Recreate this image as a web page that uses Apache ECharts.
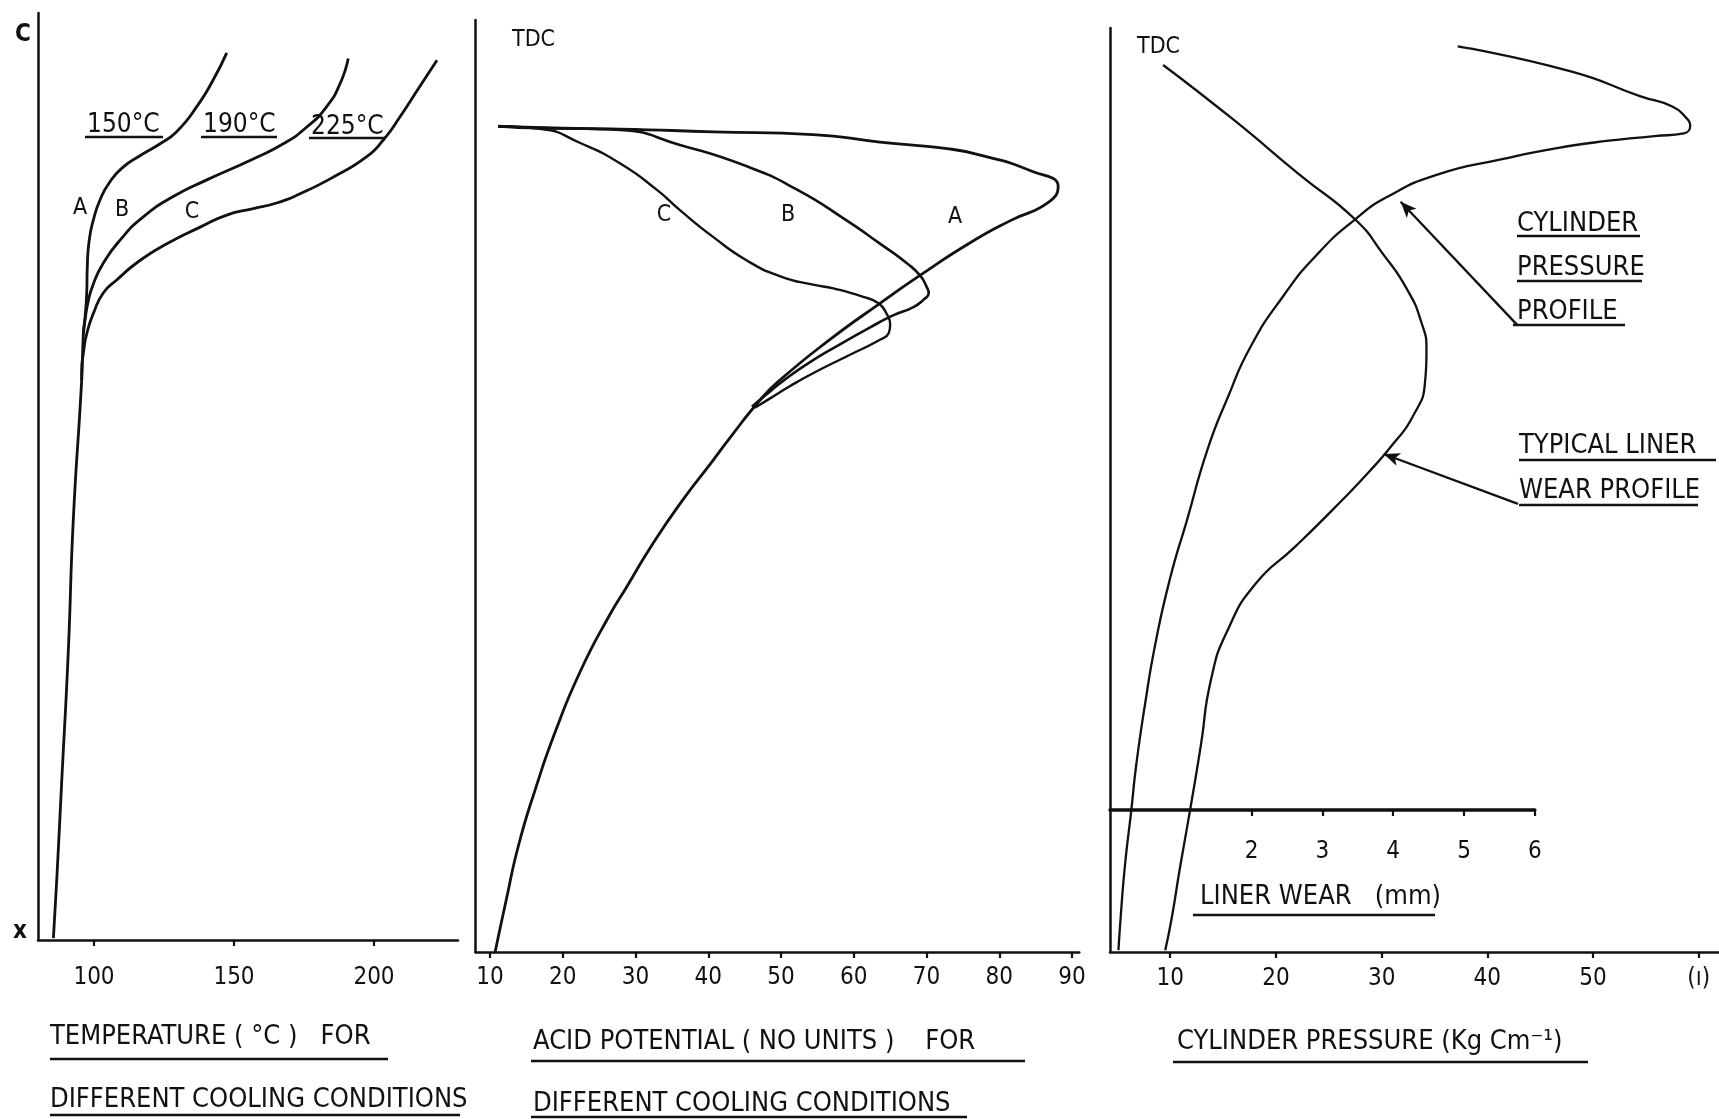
<!DOCTYPE html>
<html>
<head>
<meta charset="utf-8">
<script src="https://cdn.jsdelivr.net/npm/echarts@6/dist/echarts.min.js"></script>
<style>
html,body{margin:0;padding:0;background:#fff;}
#chart{width:1719px;height:1119px;}
</style>
</head>
<body>
<div id="chart"></div>
<script>
// ---------- DATA (y value = position along stroke, 0 = BDC at axis, 100 = top of axis) ----------
// Panel 1: temperature (°C) for cooling conditions A (150°C), B (190°C), C (225°C)
const temp150 = [[147.4,95.7],[142.6,92.8],[136.7,89.9],[129.5,87.2],[123.6,85.9],[116.4,84.6],[110.5,83.4],[105.7,81.8],[102.1,79.8],[99.8,77.7],[98.3,75.5],[97.6,72.6],[97.4,69.8],[96.8,67.2],[96.2,65.4],[95.6,60.4],[92.6,45.3],[90.8,31.0],[88.5,17.3],[86.7,6.5],[85.5,0.2]];
const temp190 = [[190.8,95.1],[187.9,92.4],[183.1,89.9],[176.0,87.7],[167.6,85.9],[155.7,84.1],[140.3,82.0],[128.3,80.2],[117.6,78.0],[109.3,75.5],[103.3,73.0],[99.8,70.8],[98.0,69.0],[96.8,66.9],[96.2,65.4]];
const temp225 = [[222.5,94.9],[216.4,92.1],[209.3,88.8],[203.3,86.3],[197.4,84.5],[185.5,82.3],[173.6,80.5],[165.2,79.5],[156.9,78.9],[147.4,78.2],[137.9,76.9],[126.0,75.1],[116.4,73.3],[108.1,71.2],[103.3,69.8],[99.8,67.6],[97.4,65.4],[96.2,63.3],[95.6,61.5],[95.6,60.4]];
const tempTicks = [100,150,200];

// Panel 2: acid potential (no units)
const acidA = [[11.1,88.6],[17.1,88.4],[27.9,88.3],[40.7,88.0],[54.4,87.7],[63.6,86.9],[72.8,86.2],[77.4,85.5],[84.4,83.8],[88.1,82.1],[86.7,80.4],[81.6,78.5],[76.0,76.1],[69.1,72.6],[63.6,69.6],[56.7,65.7],[49.9,61.4],[47.1,59.2],[43.0,55.2],[40.6,52.7],[36.3,48.3],[32.2,43.6],[28.8,39.2],[26.4,36.1],[22.4,30.1],[19.0,23.7],[16.2,17.4],[13.9,11.4],[12.2,5.5],[10.7,0]];
const acidB = [[11.1,88.6],[20.0,88.4],[27.9,88.2],[36.1,86.6],[45.3,84.3],[52.2,81.8],[59.0,78.5],[63.6,76.0],[67.3,73.9],[69.1,72.6],[70.0,71.4],[70.3,70.7],[69.6,70.0],[68.2,69.2],[65.4,68.3],[62.2,67.0],[58.1,65.2],[54.0,63.3],[50.5,61.4],[47.8,59.7],[46.0,58.5]];
const acidC = [[11.1,88.6],[17.1,88.3],[22.4,86.8],[27.9,84.6],[32.9,81.8],[36.1,79.6],[40.7,76.7],[45.3,74.2],[49.9,72.5],[54.4,71.6],[57.2,71.2],[61.3,70.3],[63.4,69.6],[64.5,68.5],[65.0,67.3],[64.8,66.4],[63.6,65.7],[59.0,63.9],[54.4,62.1],[51.2,60.7],[48.5,59.4],[46.4,58.4]];
const acidTicks = [10,20,30,40,50,60,70,80,90];

// Panel 3: cylinder pressure (Kg Cm^-1) and typical liner wear (mm)
const pressure = [[37.2,98.0],[47.9,95.3],[54.5,92.6],[57.5,91.5],[58.8,90.3],[59.2,89.5],[58.6,88.6],[55.8,88.3],[51.5,87.8],[46.6,87.0],[41.4,85.8],[35.2,84.1],[30.5,81.7],[27.5,79.3],[23.9,75.5],[20.7,71.0],[17.6,65.5],[15.4,59.9],[13.5,54.3],[11.6,46.8],[10.0,40.5],[8.6,33.4],[7.6,26.7],[6.8,20.4],[6.3,15.2],[5.7,9.2],[5.3,3.6],[5.1,0.2]];
const linerWear = [[0.75,96.0],[1.74,90.1],[2.68,84.1],[3.46,79.3],[3.86,75.5],[4.19,71.8],[4.40,68.1],[4.47,65.1],[4.45,61.7],[4.28,58.0],[4.00,55.0],[3.65,51.9],[3.15,47.9],[2.62,43.9],[2.05,39.8],[1.66,34.8],[1.43,29.6],[1.28,22.2],[1.13,15.3],[0.99,9.2],[0.87,3.6],[0.78,0.2]];
const pressureTicks = [10,20,30,40,50,60];
const pressureTickLabels = ['10','20','30','40','50','(\u0131)'];
const wearTicks = [2,3,4,5,6];

// ---------- STYLE ----------
const FONT = "'DejaVu Sans Condensed','Liberation Sans Narrow','DejaVu Sans',sans-serif";
const INK = '#111';
const SMOOTH = 0.55;

const chart = echarts.init(document.getElementById('chart'), null, {renderer:'canvas'});

function xAx(grid, min, max, ticks, margin, fmt, lineW){
  return {
    type:'value', gridIndex:grid, min:min, max:max, position:'bottom',
    axisLine:{show:true, onZero:false, lineStyle:{color:INK, width:lineW||2.5}},
    axisTick:{show:true, inside:false, length:6, customValues:ticks, lineStyle:{color:INK, width:2.2}},
    axisLabel:{show:true, customValues:ticks, margin:margin, color:INK, fontSize:24, fontFamily:FONT,
      formatter: fmt || (v => String(v))},
    splitLine:{show:false}
  };
}
function yAx(grid, min, max, show){
  return {
    type:'value', gridIndex:grid, min:min, max:max, show:show,
    axisLine:{show:true, onZero:false, lineStyle:{color:INK, width:2.5}},
    axisTick:{show:false}, axisLabel:{show:false}, splitLine:{show:false}
  };
}
function curve(name, data, xi, yi, w){
  return {
    name:name, type:'line', data:data, xAxisIndex:xi, yAxisIndex:yi,
    showSymbol:false, smooth:SMOOTH, clip:false, silent:true,
    lineStyle:{color:INK, width:w||2.5}
  };
}
function txt(t, x, y, size, align, weight){
  return {type:'text', x:x, y:y, silent:true,
    style:{text:t, font:(weight||'normal') + ' ' + size + 'px ' + FONT, fill:INK,
      textAlign:align||'left', textVerticalAlign:'middle'}};
}
function uline(x1, y, x2, w){
  return {type:'line', silent:true, shape:{x1:x1, y1:y, x2:x2, y2:y},
    style:{stroke:INK, lineWidth:w||2.5}};
}

const pMin = 4.3, pMax = 61.9;
const LBL = 27;

const option = {
  backgroundColor:'#fff',
  animation:false,
  grid:[
    {left:38, top:13, width:420, height:927},
    {left:475.5, top:20, width:603.8, height:932},
    {left:1110, top:28, width:608.8, height:924},
    {left:1110, top:28, width:424.8, height:782}
  ],
  xAxis:[
    xAx(0, 80, 230, tempTicks, 26),
    xAx(1, 8, 91, acidTicks, 14),
    xAx(2, pMin, pMax, pressureTicks, 15, v => pressureTickLabels[pressureTicks.indexOf(v)]),
    xAx(3, 0, 6, wearTicks, 30, null, 3.5)
  ],
  yAxis:[
    yAx(0, 0, 100, true),
    yAx(1, 0, 100, true),
    yAx(2, 0, 100, true),
    yAx(3, 15.37, 100, false)
  ],
  series:[
    curve('150°C', temp150, 0, 0, 2.8),
    curve('190°C', temp190, 0, 0, 2.8),
    curve('225°C', temp225, 0, 0, 2.8),
    curve('A', acidA, 1, 1, 2.8),
    curve('B', acidB, 1, 1, 2.6),
    curve('C', acidC, 1, 1, 2.4),
    Object.assign(curve('Cylinder pressure', pressure, 2, 2, 2.3), {
      markLine:{silent:true, symbol:['none','arrow'], symbolSize:[10,16], label:{show:false},
        lineStyle:{color:INK, width:2.3, type:'solid'},
        data:[
          [{coord:[42.8,67.9]},{coord:[31.8,81.2]}],
          [{coord:[42.9,48.5]},{coord:[30.2,53.9]}]
        ]}
    }),
    curve('Liner wear', linerWear, 3, 3, 2.3)
  ],
  graphic:[
    // panel 1
    txt('C', 23, 35, 24, 'center', 'bold'),
    txt('x', 20, 932, 24, 'center', 'bold'),
    txt('150°C', 87, 125, 26), uline(85, 137, 163),
    txt('190°C', 203, 125, 26), uline(201, 137, 277),
    txt('225°C', 311, 127, 26), uline(309, 138, 385),
    txt('A', 80, 208, 23, 'center'),
    txt('B', 122, 210, 23, 'center'),
    txt('C', 192, 212, 23, 'center'),
    txt('TEMPERATURE ( °C )   FOR', 50, 1037, LBL), uline(50, 1059, 388),
    txt('DIFFERENT COOLING CONDITIONS', 50, 1100, LBL), uline(50, 1115, 460),
    // panel 2
    txt('TDC', 512, 40, 23),
    txt('C', 664, 215, 23, 'center'),
    txt('B', 788, 215, 23, 'center'),
    txt('A', 955, 217, 23, 'center'),
    txt('ACID POTENTIAL ( NO UNITS )    FOR', 533, 1042, LBL), uline(531, 1061, 1025),
    txt('DIFFERENT COOLING CONDITIONS', 533, 1104, LBL), uline(531, 1117, 967),
    // panel 3
    txt('TDC', 1137, 47, 23),
    txt('CYLINDER', 1517, 224, LBL), uline(1517, 236, 1640),
    txt('PRESSURE', 1517, 268, LBL), uline(1517, 281, 1642),
    txt('PROFILE', 1517, 312, LBL), uline(1513, 325, 1625),
    txt('TYPICAL LINER', 1519, 446, LBL), uline(1519, 460, 1716),
    txt('WEAR PROFILE', 1519, 491, LBL), uline(1519, 505, 1698),
    txt('LINER WEAR   (mm)', 1200, 897, LBL), uline(1193, 915, 1435),
    txt('CYLINDER PRESSURE (Kg Cm\u207B\u00B9)', 1177, 1042, LBL), uline(1173, 1062, 1588)
  ]
};
chart.setOption(option);
</script>
</body>
</html>
